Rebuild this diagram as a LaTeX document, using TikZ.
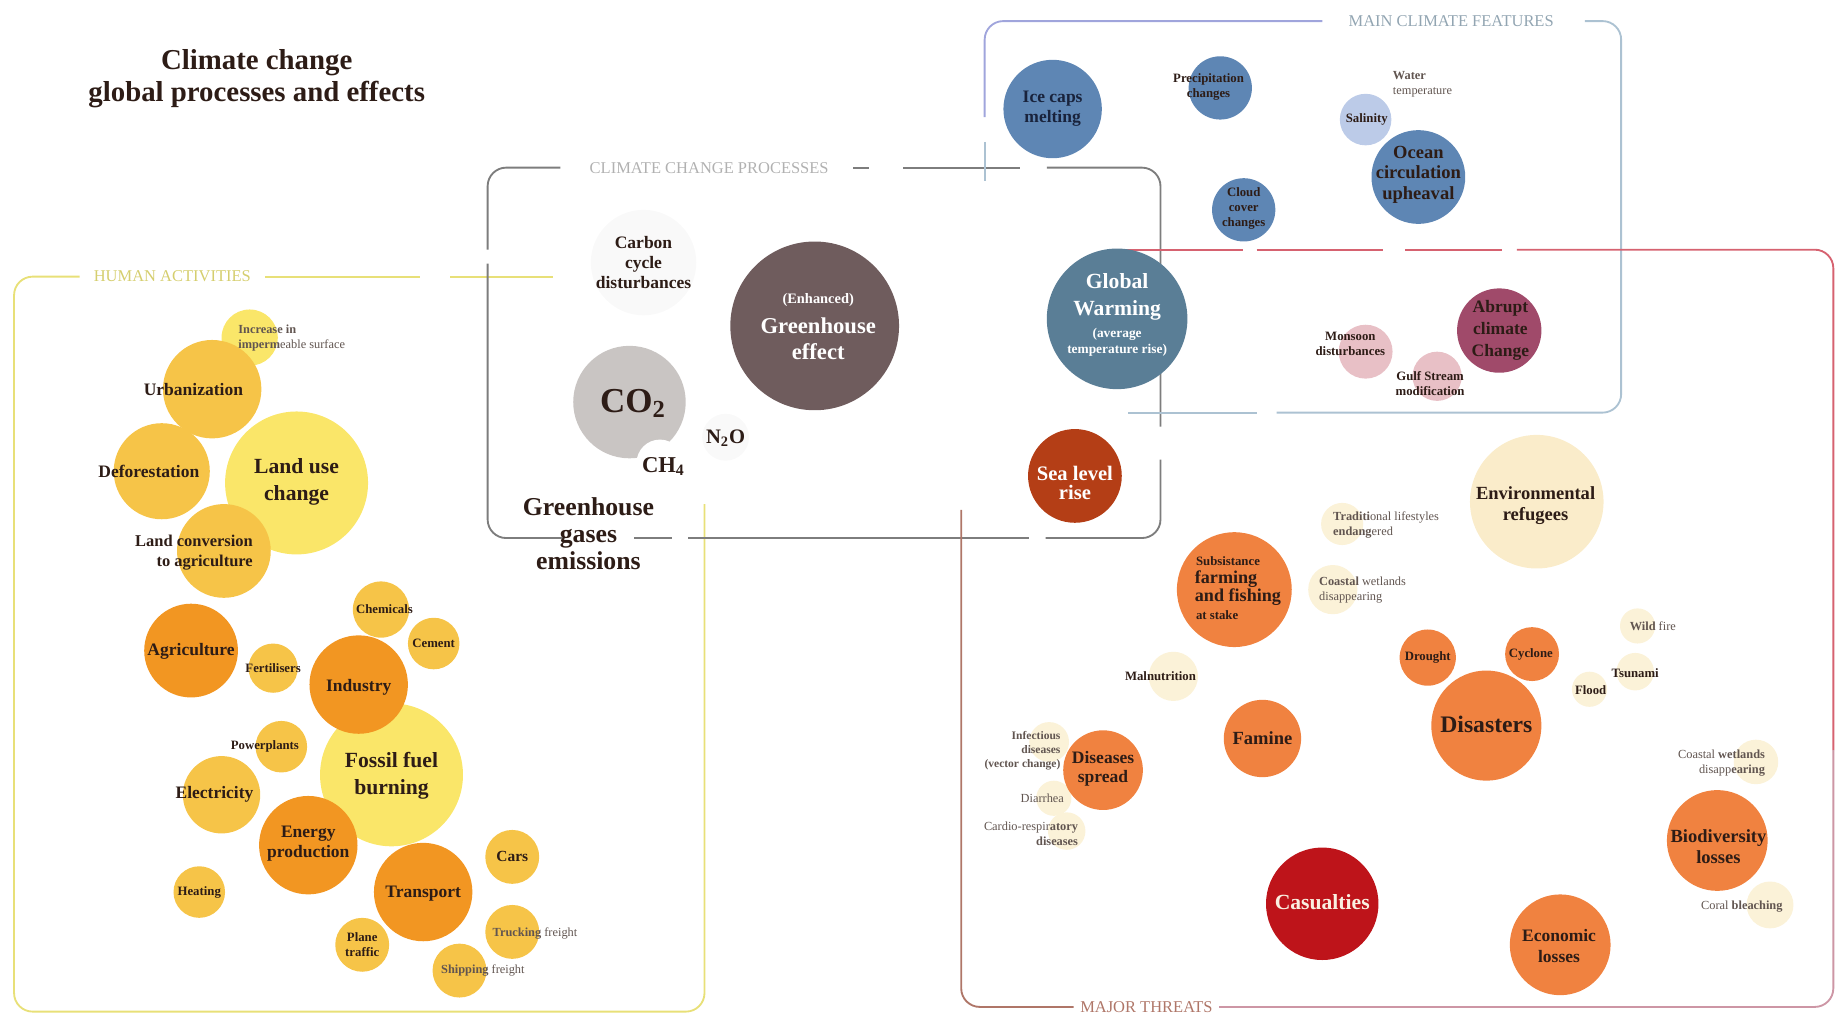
\documentclass[tikz,border=0pt]{standalone}
\usepackage{fontspec}
\setmainfont{Liberation Serif}
\usetikzlibrary{positioning}
\definecolor{humanline}{RGB}{232,224,120}
\definecolor{procline}{RGB}{125,125,125}
\definecolor{featline}{RGB}{172,194,210}
\definecolor{feattop}{RGB}{160,165,220}
\definecolor{threatline}{RGB}{214,98,112}
\definecolor{threatedge}{RGB}{175,118,104}
\definecolor{threatbot}{RGB}{205,150,165}
\definecolor{lemon}{RGB}{250,230,105}
\definecolor{golden}{RGB}{246,196,72}
\definecolor{amber}{RGB}{242,150,34}
\definecolor{smoke}{RGB}{249,249,249}
\definecolor{ashgray}{RGB}{201,197,195}
\definecolor{ghbrown}{RGB}{111,92,93}
\definecolor{gwblue}{RGB}{90,126,150}
\definecolor{searust}{RGB}{180,62,22}
\definecolor{iceblue}{RGB}{94,134,180}
\definecolor{paleblue}{RGB}{188,203,232}
\definecolor{rosepale}{RGB}{232,192,198}
\definecolor{plum}{RGB}{160,74,106}
\definecolor{tangerine}{RGB}{240,130,64}
\definecolor{cream}{RGB}{250,236,202}
\definecolor{creampale}{RGB}{251,242,216}
\definecolor{casred}{RGB}{190,20,26}
\definecolor{ink}{RGB}{45,28,22}
\definecolor{navyink}{RGB}{25,35,60}
\definecolor{creamtext}{RGB}{250,240,225}

\begin{document}
\begin{tikzpicture}[
    x=0.02cm, y=-0.02cm,
    bub/.style={circle, inner sep=0pt, fill=#1},
    fs/.style 2 args={font=\fontsize{#1}{#2}\selectfont\bfseries},
    lblbig/.style={fs={10.5}{13}, text=ink, align=center, inner sep=0pt},
    lblmid/.style={fs={8.5}{9.8}, text=ink, align=center, inner sep=0pt},
    lblsml/.style={fs={6.2}{7.3}, text=ink, align=center, inner sep=0pt},
    lbltiny/.style={font=\fontsize{6}{7.3}\selectfont, text=ink!75, inner sep=0pt},
    rim/.style={line width=0.9pt, rounded corners=9pt},
    heading/.style={font=\fontsize{8}{9}\selectfont, inner sep=0pt}
]
\useasboundingbox (0,0) rectangle (1568,869);

% Title
\node[fs={14}{15.5}, align=center, text=ink] (title) at (219,67) {Climate change\\global processes and effects};

% Frames
\draw[rim, humanline] (68,236) -| (12,863) -| (601,430);
\draw[rim, humanline] (226,236) -- (358,236) (384,236) -- (472,236);
\node[heading, text=humanline!92!black] (hlab) at (147,236) {HUMAN ACTIVITIES};

\draw[rim, procline] (478,143) -| (416,213);
\draw[rim, procline] (416,225) |- (482,459);
\draw[rim, procline] (541,459) -- (573,459) (587,459) -- (878,459);
\draw[rim, procline] (892,459) -| (990,392);
\draw[rim, procline] (990,364) |- (893,143);
\draw[rim, procline] (870,143) -- (770,143) (741,143) -- (728,143);
\node[heading, text=procline!60] (plab) at (605,143) {CLIMATE CHANGE PROCESSES};

\draw[rim, feattop] (840,100) |- (1128,18);
\draw[rim, featline] (840,121) -- (840,154);
\draw[rim, featline] (1352,18) -| (1383,352) -- (1089,352);
\draw[rim, featline] (1072,352) -- (962,352);
\node[heading, text=featline!85!black] (flab) at (1238,18) {MAIN CLIMATE FEATURES};

\draw[rim, threatline] (947,213) -- (1060,213) (1072,213) -- (1180,213) (1199,213) -- (1281,213);
\draw[rim, threatline] (1294,213) -| (1564,640);
\draw[rim, threatbot] (1564,640) |- (1040,859);
\draw[rim, threatedge] (916,859) -| (820,435);
\node[heading, text=threatedge] (tlab) at (978,859) {MAJOR THREATS};

% Human activities
\foreach \n/\x/\y/\r in {incr/213/288/24, landuse/253/412/61, fossil/334/661/61}
    \node[bub=lemon, minimum size=\r*0.04cm] (\n) at (\x,\y) {};
\foreach \n/\x/\y/\r in {urban/181/332/42, defor/138/402/41, landconv/191/470/40, fert/233/570/21,
    chem/325/520/24, cement/370/549/22, power/240/637/22, elec/189/678/33, heating/170/761/22,
    cars/437/731/23, plane/309/806/23, trucking/437/795/23, shipping/392/828/23}
    \node[bub=golden, minimum size=\r*0.04cm] (\n) at (\x,\y) {};
\foreach \n/\x/\y/\r in {agri/163/555/40, industry/306/584/42, energy/263/721/42, transport/361/761/42}
    \node[bub=amber, minimum size=\r*0.04cm] (\n) at (\x,\y) {};

\node[lbltiny, align=left, anchor=west] (incrt) at (203,288) {\textbf{Increase in}\\\textbf{imperm}eable surface};
\node[lblmid] (urbant) at (165,332) {Urbanization};
\node[lblmid] (defort) at (127,402) {Deforestation};
\node[lblbig] (landuset) at (253,411) {Land use\\change};
\node[lblmid, fs={8}{9.7}, align=right, anchor=east] (landconvt) at (216,471) {Land conversion\\to agriculture};
\node[lblmid] (agrit) at (163,556) {Agriculture};
\node[lblsml] (fertt) at (233,570) {Fertilisers};
\node[lblsml] (chemt) at (328,520) {Chemicals};
\node[lblsml] (cementt) at (370,549) {Cement};
\node[lblmid] (industryt) at (306,586) {Industry};
\node[lblsml] (powert) at (226,637) {Powerplants};
\node[lblbig] (fossilt) at (334,662) {Fossil fuel\\burning};
\node[lblmid] (elect) at (183,678) {Electricity};
\node[lblmid] (energyt) at (263,720) {Energy\\production};
\node[lblsml] (heatingt) at (170,761) {Heating};
\node[lblmid] (transportt) at (361,762) {Transport};
\node[lblmid, fs={7.5}{9}] (carst) at (437,731) {Cars};
\node[lblsml] (planet) at (309,806) {Plane\\traffic};
\node[lbltiny, anchor=west] (truckingt) at (420,796) {\textbf{Trucking} freight};
\node[lbltiny, anchor=west] (shippingt) at (376,828) {\textbf{Shipping} freight};

% Climate change processes
\foreach \n/\x/\y/\r/\c in {carbon/549/224/45/smoke, n2o/619/373/20/smoke, co2/537/343/48/ashgray,
    ch4/563/395/20/white, gh/695/278/72/ghbrown, gw/953/272/60/gwblue, sea/917/406/40/searust}
    \node[bub=\c, minimum size=\r*0.04cm] (\n) at (\x,\y) {};

\node[lblmid] (carbont) at (549,224) {Carbon\\cycle\\disturbances};
\node[lblsml, fs={7}{8}, text=white] (ghtop) at (698,256) {(Enhanced)};
\node[lblbig, fs={11}{12.5}, text=white] (ght) at (698,289) {Greenhouse\\effect};
\node[fs={17}{19}, text=ink, inner sep=0pt] (co2t) at (540,344) {CO\textsubscript{2}};
\node[fs={11}{12}, text=ink, inner sep=0pt] (ch4t) at (566,398) {CH\textsubscript{4}};
\node[fs={10}{11}, text=ink, inner sep=0pt] (n2ot) at (619,374) {N\textsubscript{2}O};
\node[lblbig, fs={12.5}{13.1}] (ghgt) at (502,455) {Greenhouse\\gases\\emissions};
\node[lblbig, text=white] (gwt) at (953,253) {Global\\Warming};
\node[lblsml, fs={6.5}{7.8}, text=white] (gwsub) at (953,292) {(average\\temperature rise)};
\node[lblmid, fs={10}{9.5}, text=white] (seat) at (917,412) {Sea level\\rise};

% Main climate features
\foreach \n/\x/\y/\r/\c in {ice/898/93/42/iceblue, precip/1041/75/27/iceblue, cloud/1061/179/27/iceblue,
    ocean/1210/151/40/iceblue, salinity/1165/102/22/paleblue, monsoon/1165/300/23/rosepale,
    gulf/1226/321/21/rosepale, abrupt/1279/282/36/plum}
    \node[bub=\c, minimum size=\r*0.04cm] (\n) at (\x,\y) {};

\node[lblmid, text=navyink] (icet) at (898,93) {Ice caps\\melting};
\node[lblsml] (precipt) at (1031,74) {Precipitation\\changes};
\node[lblsml] (cloudt) at (1061,178) {Cloud\\cover\\changes};
\node[lblsml] (salinityt) at (1166,102) {Salinity};
\node[lbltiny, align=left, anchor=west] (watert) at (1188,72) {\textbf{Water}\\temperature};
\node[lblmid, fs={9}{10}] (oceant) at (1210,149) {Ocean\\circulation\\upheaval};
\node[lblsml] (monsoont) at (1152,293) {Monsoon\\disturbances};
\node[lblsml] (gulft) at (1220,327) {Gulf Stream\\modification};
\node[lblmid, fs={8.5}{10.8}] (abruptt) at (1280,282) {Abrupt\\climate\\Change};

% Major threats
\foreach \n/\x/\y/\r/\c in {envref/1311/428/57/cream, trad/1145/447/18/creampale, coast/1137/503/21/creampale,
    malnut/1001/577/21/creampale, wildfire/1397/534/15/creampale, tsunami/1395/573/16/creampale,
    flood/1356/588/15/creampale, infect/895/633/17/creampale, diarrhea/899/681/15/creampale,
    cardio/910/709/16/creampale, coastb/1498/650/19/creampale, coral/1510/772/20/creampale,
    subs/1053/503/49/tangerine, drought/1218/561/24/tangerine, cyclone/1307/558/23/tangerine,
    disasters/1268/619/47/tangerine, famine/1077/630/33/tangerine, diseases/941/657/34/tangerine,
    bio/1465/717/43/tangerine, econ/1331/806/43/tangerine, casual/1128/771/48/casred}
    \node[bub=\c, minimum size=\r*0.04cm] (\n) at (\x,\y) {};

\node[lblmid, fs={9}{10.2}] (envreft) at (1310,431) {Environmental\\refugees};
\node[lbltiny, align=left, anchor=west] (tradt) at (1137,448) {\textbf{Traditi}onal lifestyles\\\textbf{endang}ered};
\node[lblsml, anchor=west] (substop) at (1020,479) {Subsistance};
\node[lblmid, fs={8.8}{8.6}, align=left, anchor=west] (subst) at (1019,502) {farming\\and fishing};
\node[lblsml, anchor=west] (subsbot) at (1020,525) {at stake};
\node[lbltiny, align=left, anchor=west] (coastt) at (1125,503) {\textbf{Coastal} wetlands\\disappearing};
\node[lblsml] (malnutt) at (990,577) {Malnutrition};
\node[lblsml] (droughtt) at (1218,561) {Drought};
\node[lblsml] (cyclonet) at (1306,558) {Cyclone};
\node[lbltiny, anchor=west] (wildfiret) at (1390,534) {\textbf{Wild} fire};
\node[lblsml] (tsunamit) at (1395,574) {Tsunami};
\node[lblsml] (floodt) at (1357,589) {Flood};
\node[lblbig, fs={11.5}{13}] (disasterst) at (1268,618) {Disasters};
\node[lblmid, fs={9}{10}] (faminet) at (1077,630) {Famine};
\node[lblmid, fs={8.5}{9.1}] (diseasest) at (941,656) {Diseases\\spread};
\node[lbltiny, fs={5.6}{6.8}, text=ink!75, align=right, anchor=east] (infectt) at (905,640) {Infectious\\diseases\\(vector change)};
\node[lbltiny, anchor=east] (diarrheat) at (908,681) {Diarrhea};
\node[lbltiny, align=right, anchor=east] (cardiot) at (920,711) {Cardio-respir\textbf{atory}\\\textbf{diseases}};
\node[lblbig, text=creamtext] (casualt) at (1128,770) {Casualties};
\node[lbltiny, align=right, anchor=east] (coastbt) at (1506,651) {Coastal \textbf{wetlands}\\disapp\textbf{earing}};
\node[lblmid, fs={9}{10.2}] (biot) at (1466,722) {Biodiversity\\losses};
\node[lbltiny, anchor=east] (coralt) at (1521,773) {Coral \textbf{bleaching}};
\node[lblmid, fs={8.5}{10.2}] (econt) at (1330,807) {Economic\\losses};
\end{tikzpicture}
\end{document}
